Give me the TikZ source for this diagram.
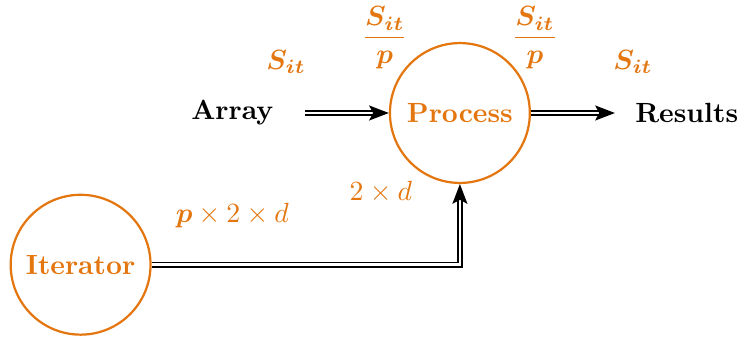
\documentclass[tikz,border=0pt]{standalone}
\usepackage{amsmath,amssymb,bm}
\usetikzlibrary{arrows.meta,positioning,calc}
\definecolor{procorange}{RGB}{228,118,16}

\begin{document}
\begin{tikzpicture}[node distance=0.35cm,>={Stealth[length=2.5mm,width=1.9mm,inset=0.5mm]}]
\tikzset{proc/.style={circle,draw=procorange,thick,text=procorange,minimum size=1.77cm,inner sep=0pt,font=\bfseries},
  io/.style={font=\bfseries,inner sep=0pt},
  lab/.style={text=procorange,inner sep=0pt},
  flow/.style={->,double,line width=0.55pt,double distance=0.9pt}}
\useasboundingbox (-5.82,-2.846) rectangle (3.57,1.43);
\node[proc] (proc) at (0,0) {Process};
\node[proc] (iter) at (-4.80,-1.92) {Iterator};
\node[io] (arr) at (-2.88,0) {Array};
\node[io] (res) at (2.87,0) {Results};
% sizes of the data
\node[lab] (s1) at (-2.20,0.645) {$\bm{S_{it}}$};
\node[lab] (s2) at (-0.95,0.95) {$\dfrac{\bm{S_{it}}}{\bm{p}}$};
\node[lab] (s3) at (0.95,0.95) {$\dfrac{\bm{S_{it}}}{\bm{p}}$};
\node[lab] (s4) at (2.19,0.645) {$\bm{S_{it}}$};
\node[lab] (d1) at (-1.0,-1.0) {$2\times d$};
\node[lab] (d2) at (-2.88,-1.30) {$\bm{p}\times 2\times d$};
\draw[flow,shorten <=0.4cm] (arr.east)--(proc);
\draw[flow,shorten >=0.25cm] (proc)--(res.west);
\draw[flow] (iter.east)-|(proc.south);
\end{tikzpicture}
\end{document}
